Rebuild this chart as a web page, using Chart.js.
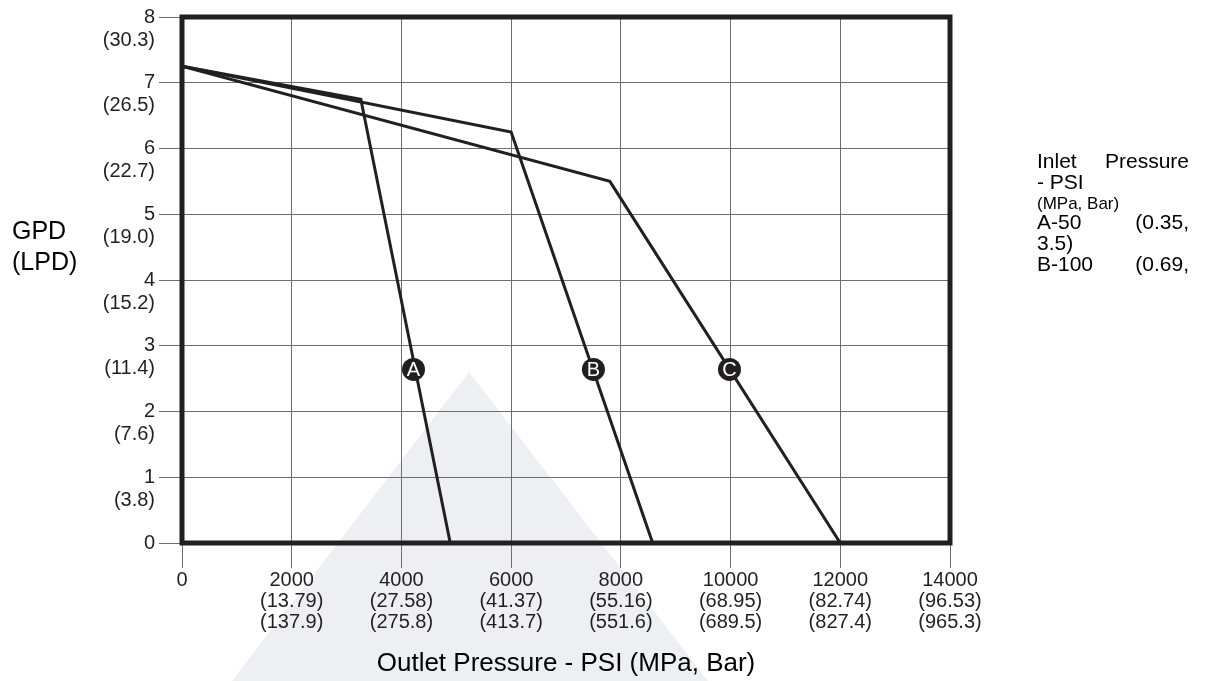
<!DOCTYPE html>
<html>
<head>
<meta charset="utf-8">
<script src="https://cdn.jsdelivr.net/npm/chart.js@4/dist/chart.umd.min.js"></script>
<style>
  html, body { margin: 0; padding: 0; background: #fff; }
  #wrap { width: 1208px; height: 681px; }
</style>
</head>
<body>
<div id="wrap"><canvas id="myChart" width="1208" height="681"></canvas></div>
<script>
// start: data
var xTicks = [0, 2000, 4000, 6000, 8000, 10000, 12000, 14000];
var xTickMpa = ['', '(13.79)', '(27.58)', '(41.37)', '(55.16)', '(68.95)', '(82.74)', '(96.53)'];
var xTickBar = ['', '(137.9)', '(275.8)', '(413.7)', '(551.6)', '(689.5)', '(827.4)', '(965.3)'];
var yTicks = [0, 1, 2, 3, 4, 5, 6, 7, 8];
var yTickLpd = ['', '(3.8)', '(7.6)', '(11.4)', '(15.2)', '(19.0)', '(22.7)', '(26.5)', '(30.3)'];

// curves: outlet pressure (PSI) vs flow (GPD)
var curveA = [{x: 0, y: 7.25}, {x: 3260, y: 6.75}, {x: 4890, y: 0}];
var curveB = [{x: 0, y: 7.25}, {x: 6000, y: 6.25}, {x: 8580, y: 0}];
var curveC = [{x: 0, y: 7.25}, {x: 7800, y: 5.5}, {x: 12000, y: 0}];

// letter markers on the curves
var markerNames = ['A', 'B', 'C'];
var markerPoints = [{x: 4220, y: 2.64}, {x: 7500, y: 2.64}, {x: 9980, y: 2.64}];

var legendLines = [
    ['Inlet', 'Pressure'],
    ['- PSI', ''],
    ['(MPa, Bar)', ''],
    ['A-50', '(0.35,'],
    ['3.5)', ''],
    ['B-100', '(0.69,']
];
// end: data

var ink = '#231f20';
var gridCol = '#6d6e71';

// faint logo in the background
var watermark = {
    id: 'watermark',
    beforeDraw: function (chart) {
        var ctx = chart.ctx;
        ctx.save();
        ctx.fillStyle = '#eeeff3';
        ctx.beginPath();
        ctx.moveTo(469, 372);
        ctx.lineTo(708, 681);
        ctx.lineTo(232, 681);
        ctx.closePath();
        ctx.fill();
        ctx.restore();
    }
};

// thick frame, letter badges and the loose texts
var extras = {
    id: 'extras',
    afterDatasetsDraw: function (chart) {
        var ctx = chart.ctx;
        var a = chart.chartArea;
        ctx.save();
        ctx.strokeStyle = ink;
        ctx.lineWidth = 5;
        ctx.strokeRect(a.left, a.top, a.right - a.left, a.bottom - a.top);

        // letters inside the marker circles
        var meta = chart.getDatasetMeta(3);
        ctx.fillStyle = '#ffffff';
        ctx.font = '20px "Liberation Sans", Arial, sans-serif';
        ctx.textAlign = 'center';
        ctx.textBaseline = 'middle';
        meta.data.forEach(function (pt, i) {
            ctx.fillText(markerNames[i], pt.x, pt.y + 1);
        });

        // y title, written flat on the left
        ctx.fillStyle = '#000';
        ctx.textAlign = 'left';
        ctx.font = '25px "Liberation Sans", Arial, sans-serif';
        ctx.fillText('GPD', 12, 232);
        ctx.fillText('(LPD)', 12, 263);

        // inlet pressure legend on the right, cut off like the original
        var yy = [162, 183, 204, 223, 244, 265];
        legendLines.forEach(function (ln, i) {
            ctx.font = (i === 2 ? '17px' : '21px') + ' "Liberation Sans", Arial, sans-serif';
            ctx.textAlign = 'left';
            ctx.fillText(ln[0], 1037, yy[i]);
            if (ln[1]) {
                ctx.textAlign = 'right';
                ctx.fillText(ln[1], 1189, yy[i]);
            }
        });
        ctx.restore();
    }
};

function curve(points) {
    return {
        data: points,
        showLine: true,
        borderColor: ink,
        borderWidth: 3,
        pointRadius: 0,
        fill: false,
        tension: 0
    };
}

var data = {
    datasets: [
        curve(curveA),
        curve(curveB),
        curve(curveC),
        {
            data: markerPoints,
            showLine: false,
            pointRadius: 11.5,
            pointBackgroundColor: ink,
            pointBorderColor: ink,
            pointBorderWidth: 0
        }
    ]
};

var tickFont = { family: '"Liberation Sans", Arial, sans-serif', size: 20 };

var config = {
    type: 'scatter',
    data: data,
    options: {
        responsive: false,
        animation: false,
        layout: {
            autoPadding: false,
            padding: { left: 0, right: 258, top: 17, bottom: 0 }
        },
        plugins: {
            legend: { display: false },
            tooltip: { enabled: false }
        },
        scales: {
            x: {
                type: 'linear',
                min: 0,
                max: 14000,
                afterBuildTicks: function (scale) {
                    scale.ticks = xTicks.map(function (v) { return { value: v }; });
                },
                afterFit: function (scale) {
                    scale.height = 138;
                    scale.paddingLeft = 0;
                    scale.paddingRight = 0;
                },
                ticks: {
                    autoSkip: false,
                    color: '#231f20',
                    font: Object.assign({ lineHeight: '21px' }, tickFont),
                    padding: 2,
                    maxRotation: 0,
                    callback: function (v) {
                        var i = xTicks.indexOf(v);
                        if (i <= 0) return String(v);
                        return [String(v), xTickMpa[i], xTickBar[i]];
                    }
                },
                grid: { color: gridCol, lineWidth: 1, tickLength: 25 },
                border: { display: false },
                title: {
                    display: true,
                    text: 'Outlet Pressure - PSI (MPa, Bar)',
                    color: '#000',
                    font: { family: '"Liberation Sans", Arial, sans-serif', size: 26 },
                    padding: { top: 0, bottom: 2 }
                }
            },
            y: {
                type: 'linear',
                min: 0,
                max: 8,
                afterBuildTicks: function (scale) {
                    scale.ticks = yTicks.map(function (v) { return { value: v }; });
                },
                afterFit: function (scale) {
                    scale.width = 182;
                    scale.paddingTop = 0;
                    scale.paddingBottom = 0;
                },
                ticks: {
                    autoSkip: false,
                    color: '#231f20',
                    font: Object.assign({ lineHeight: '23px' }, tickFont),
                    padding: 4,
                    callback: function (v) {
                        var i = yTicks.indexOf(v);
                        if (i <= 0) return String(v);
                        return ['', String(v), yTickLpd[i]];
                    }
                },
                grid: { color: gridCol, lineWidth: 1, tickLength: 23 },
                border: { display: false }
            }
        }
    },
    plugins: [watermark, extras]
};

var ctx = document.getElementById('myChart').getContext('2d');
var myChart = new Chart(ctx, config);
</script>
</body>
</html>
